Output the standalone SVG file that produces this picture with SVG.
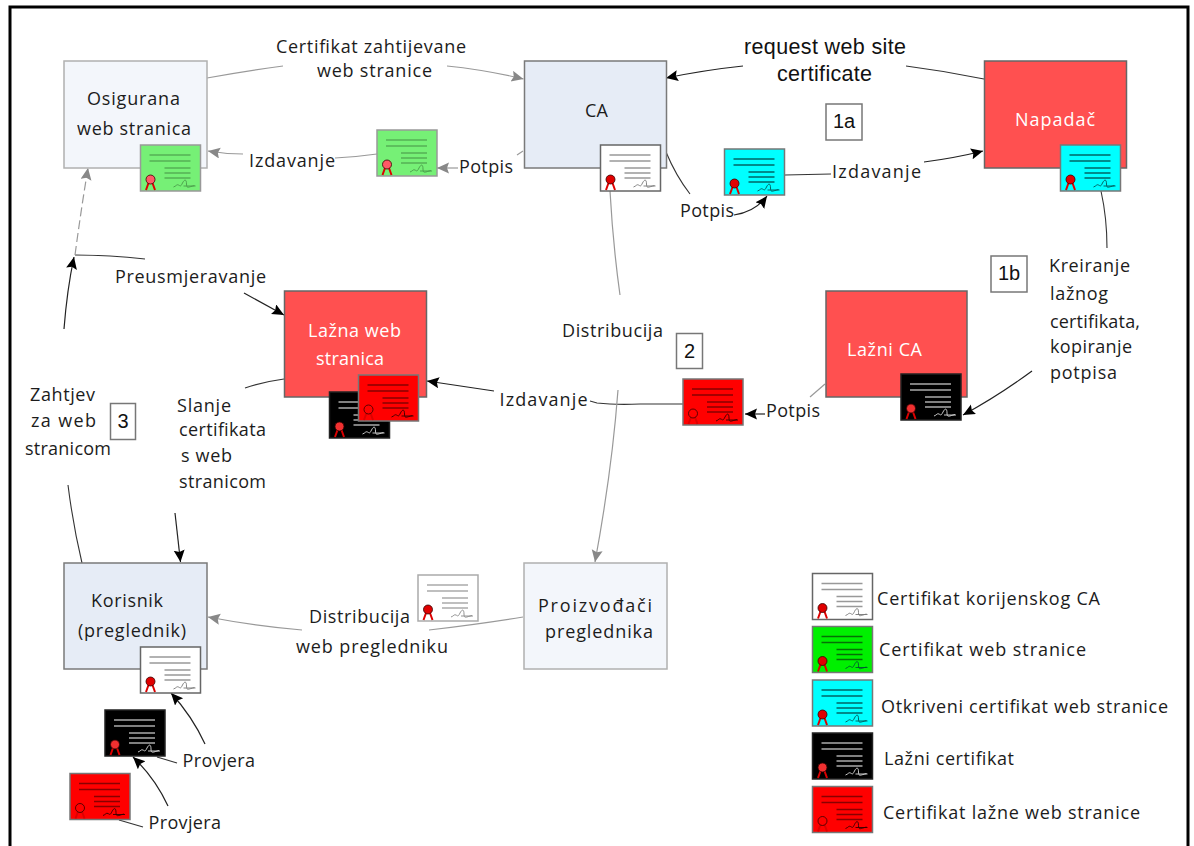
<svg xmlns="http://www.w3.org/2000/svg" width="1194" height="846" viewBox="0 0 1194 846">
<style>
text{font-family:"Open Sans","Noto Sans","Liberation Sans",sans-serif;font-size:18px;fill:#1c1c1c}
.w{fill:#fff}
.a{font-family:"Liberation Sans",Arial,sans-serif;font-size:21.5px;fill:#111}
.n{font-family:"Liberation Sans",Arial,sans-serif;font-size:20px;fill:#111;text-anchor:middle}
.node{stroke-width:1.5}
.g1{fill:#f3f6fb;stroke:#b0b0b0}
.g2{fill:#e6ecf6;stroke:#7a7a7a}
.r{fill:#ff5050;stroke:#666}
.box{fill:#fff;stroke:#777;stroke-width:1.5}
.cb{fill:none;stroke:#222;stroke-width:1.2;marker-end:url(#ab)}
.cg{fill:none;stroke:#999;stroke-width:1.2;marker-end:url(#ag)}
.lb{fill:none;stroke:#333;stroke-width:1.1}
.lg{fill:none;stroke:#999;stroke-width:1.2}
.white{--bg:#fff;--bd:#666;--ln:#999;--seal:#e00000;--sg:#777}
.whitel{--bg:#fff;--bd:#aaa;--ln:#aaa;--seal:#e00000;--sg:#888}
.green{--bg:#00f000;--bd:#777;--ln:#067006;--seal:#e00000;--sg:#053}
.fgreen{--bg:#76f076;--bd:#999;--ln:#55b055;--seal:#ff5a66;--sg:#4a9a4a}
.cyan{--bg:#00ffff;--bd:#777;--ln:#066;--seal:#e00000;--sg:#055}
.black{--bg:#000;--bd:#222;--ln:#aaa;--seal:#f03030;--sg:#ddd}
.red{--bg:#f00;--bd:#777;--ln:#800;--seal:none;--sg:#300}
</style>
<defs>
<marker id="ab" markerUnits="userSpaceOnUse" markerWidth="13" markerHeight="12" refX="12" refY="5.5" orient="auto"><path d="M0 0L12 5.5L0 11L2 5.5Z" fill="#000"/></marker>
<marker id="ag" markerUnits="userSpaceOnUse" markerWidth="13" markerHeight="12" refX="12" refY="5.5" orient="auto"><path d="M0 0L12 5.5L0 11L2 5.5Z" fill="#888"/></marker>
<g id="cert">
<rect x="0" y="0" width="60" height="46" style="fill:var(--bg);stroke:var(--bd)" stroke-width="1.5"/>
<path d="M9 10H50M9 16H50M24 23H50M24 28H50M24 33H50" fill="none" stroke-width="1.3" style="stroke:var(--ln)"/>
<path d="M8 38L5.5 45M12 38L14.500 45" fill="none" stroke-width="2" stroke="#d00"/>
<circle cx="10" cy="34.500" r="4.500" stroke="#300" stroke-width=".8" style="fill:var(--seal)"/>
<path d="M33 42C36 41 36 39 38 40S40 42 42 38S46 34 46 39S48 42 54 40.500M43 41H55" fill="none" stroke-width=".9" style="stroke:var(--sg)"/>
</g>
</defs>
<rect width="1194" height="846" fill="#fff"/>
<path id="frame" d="M10 846V7H1188V846" fill="none" stroke="#000" stroke-width="3"/>

<g id="connectors">
<path class="lg" d="M207 78Q245 71 283 66"/>
<path class="cg" d="M447 66Q486 70 523.500 79"/>
<path class="lg" d="M377 154Q356 157 335 158"/>
<path class="cg" d="M243 154Q225 154 208 151"/>
<path class="lg" d="M523 151L517 155"/>
<path class="cg" d="M458 168H437"/>
<path class="cb" d="M743 66Q705 70 666 78"/>
<path class="lb" d="M906 66Q945 71 984 79"/>
<path class="lb" d="M785 175L831 174"/>
<path class="cb" d="M924 162Q955 158 983 151"/>
<path class="lb" d="M666 152Q676 176 690 194"/>
<path class="cb" d="M734 215Q755 212 767 196"/>
<path class="lb" d="M1101 191Q1107 218 1107 248"/>
<path class="cb" d="M1032 371Q998 396 963 415"/>
<path class="lg" d="M825 384L810 397"/>
<path class="cb" d="M765 414H745"/>
<path class="lb" d="M683 404H640Q615 405 597 403L590 401"/>
<path class="cb" d="M494 391L427 381"/>
<path class="lg" d="M610 191Q613 245 620 295"/>
<path class="cg" d="M618 390Q612 470 595 562"/>
<path class="lg" d="M523 617Q480 624 429 630"/>
<path class="cg" d="M302 630Q255 626 208 617"/>
<path class="lb" d="M68 485Q73 525 82 563"/>
<path class="cb" d="M64 329Q67 290 74 257"/>
<path class="lb" d="M75 255Q110 255 145 259"/>
<path class="cg" stroke-dasharray="9 4" d="M75 255Q81 210 88 168"/>
<path class="cb" d="M244 293L284 315"/>
<path class="lb" d="M284 379Q262 382 245 388"/>
<path class="cb" d="M175 513L180.500 562"/>
<path class="cb" d="M205 744Q192 716 171 693"/>
<path class="lb" d="M157 757L177 763"/>
<path class="cb" d="M168 806Q155 778 133 757"/>
<path class="lb" d="M119 820L143 827"/>
</g>

<g id="n-osigurana"><rect class="node g1" x="64" y="61" width="143" height="107"/>
<text x="87" y="105" textLength="93">Osigurana</text><text x="77" y="135" textLength="114">web stranica</text>
<use href="#cert" class="fgreen" x="140.500" y="145"/></g>

<g id="n-ca"><rect class="node g2" x="524.500" y="61" width="142" height="107"/>
<text x="585" y="117" textLength="23">CA</text>
<use href="#cert" class="white" x="600.500" y="145"/></g>

<g id="n-napadac"><rect class="node r" x="984.500" y="61" width="142" height="107"/>
<text class="w" x="1015" y="126" textLength="80">Napadač</text>
<use href="#cert" class="cyan" x="1060.500" y="145"/></g>

<g id="n-lazna"><rect class="node r" x="284.500" y="291" width="142" height="106"/>
<text class="w" x="308" y="337" textLength="93">Lažna web</text><text class="w" x="316" y="365" textLength="68">stranica</text>
<use href="#cert" class="black" x="329.500" y="392"/>
<use href="#cert" class="red" x="358.500" y="375"/></g>

<g id="n-laznica"><rect class="node r" x="826" y="291" width="141" height="106"/>
<text class="w" x="847" y="356" textLength="75">Lažni CA</text>
<use href="#cert" class="black" x="901" y="374"/></g>

<g id="n-korisnik"><rect class="node g2" x="64" y="563" width="143" height="106"/>
<text x="91" y="607" textLength="72">Korisnik</text><text x="78" y="637" textLength="108">(preglednik)</text>
<use href="#cert" class="white" x="140.500" y="647"/></g>

<g id="n-proizvodaci"><rect class="node g1" x="524" y="563" width="143" height="106"/>
<text x="538" y="612" textLength="114">Proizvođači</text><text x="545" y="638" textLength="108">preglednika</text></g>

<g id="certs">
<use href="#cert" class="fgreen" x="377" y="130"/>
<use href="#cert" class="cyan" x="724.500" y="149"/>
<use href="#cert" class="red" x="683" y="379"/>
<use href="#cert" class="whitel" x="418" y="575"/>
<use href="#cert" class="black" x="105" y="710"/>
<use href="#cert" class="red" x="70" y="773.500"/>
</g>

<g id="labels">
<text x="276" y="53" textLength="190">Certifikat zahtijevane</text>
<text x="317" y="77" textLength="115">web stranice</text>
<text x="249" y="167" textLength="86">Izdavanje</text>
<text x="459" y="173" textLength="54">Potpis</text>
<text class="a" x="744" y="54" textLength="162">request web site</text>
<text class="a" x="777" y="81" textLength="95">certificate</text>
<text x="832" y="178" textLength="89">Izdavanje</text>
<text x="680" y="217" textLength="54">Potpis</text>
<text x="1049" y="272" textLength="81">Kreiranje</text>
<text x="1050" y="300" textLength="58">lažnog</text>
<text x="1050" y="328" textLength="90">certifikata,</text>
<text x="1050" y="353" textLength="82">kopiranje</text>
<text x="1050" y="379" textLength="67">potpisa</text>
<text x="115" y="283" textLength="151">Preusmjeravanje</text>
<text x="562" y="337" textLength="101">Distribucija</text>
<text x="499.500" y="406" textLength="88">Izdavanje</text>
<text x="766" y="417" textLength="54">Potpis</text>
<text x="30" y="401" textLength="65">Zahtjev</text>
<text x="31" y="427" textLength="65">za web</text>
<text x="25" y="455" textLength="86">stranicom</text>
<text x="177" y="412" textLength="54">Slanje</text>
<text x="179" y="436" textLength="87">certifikata</text>
<text x="181" y="462" textLength="51">s web</text>
<text x="179" y="488" textLength="87">stranicom</text>
<text x="309" y="623" textLength="101">Distribucija</text>
<text x="296" y="653" textLength="152">web pregledniku</text>
<text x="182.500" y="767" textLength="72.500">Provjera</text>
<text x="148.500" y="829" textLength="72.500">Provjera</text>
</g>

<g id="steps">
<rect class="box" x="826" y="104" width="36" height="36"/><text class="n" x="844" y="128">1a</text>
<rect class="box" x="991" y="256" width="36" height="36"/><text class="n" x="1009" y="280">1b</text>
<rect class="box" x="676.500" y="333.500" width="26" height="35"/><text class="n" x="689.500" y="358">2</text>
<rect class="box" x="110.500" y="403.500" width="25" height="36"/><text class="n" x="123" y="428">3</text>
</g>

<g id="legend">
<use href="#cert" class="white" x="812.500" y="573.500"/><text x="877" y="605" textLength="223">Certifikat korijenskog CA</text>
<use href="#cert" class="green" x="812.500" y="626.500"/><text x="879" y="656" textLength="207">Certifikat web stranice</text>
<use href="#cert" class="cyan" x="812.500" y="680"/><text x="881" y="713" textLength="287">Otkriveni certifikat web stranice</text>
<use href="#cert" class="black" x="812.500" y="733"/><text x="884" y="765" textLength="130">Lažni certifikat</text>
<use href="#cert" class="red" x="812.500" y="786.500"/><text x="883" y="819" textLength="257">Certifikat lažne web stranice</text>
</g>
</svg>
